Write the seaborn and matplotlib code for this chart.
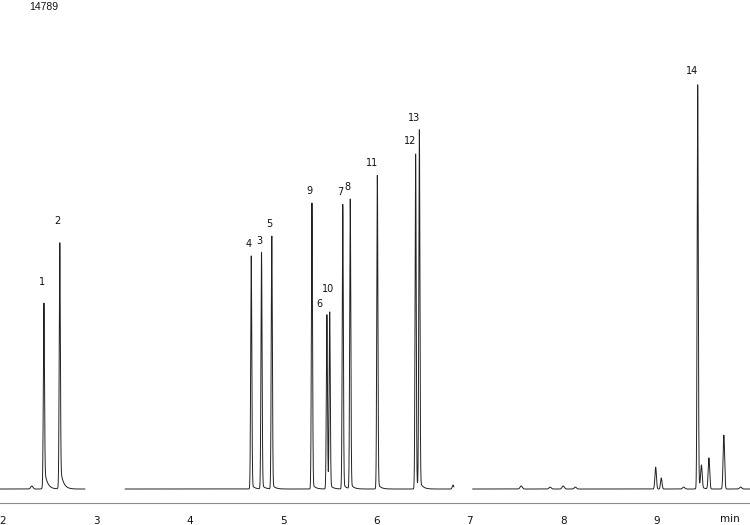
import numpy as np
import pandas as pd
import matplotlib
matplotlib.use("Agg")
import matplotlib.pyplot as plt
import seaborn as sns

# ---- data ----
peak_labels = ['1', '2', '4', '3', '5', '9', '6', '10', '7', '8', '11', '12', '13', '14']
peak_times = [2.44, 2.61, 4.66, 4.77, 4.88, 5.31, 5.47, 5.50, 5.64, 5.72, 6.01, 6.42, 6.46, 9.44]
peak_heights = [6240, 8170, 7440, 7540, 8070, 9110, 5550, 5610, 9080, 9240, 9990, 10690, 11410, 12900]
peak_tailing = [0.12, 0.10, 0.02, 0.02, 0.02, 0.02, 0.02, 0.02, 0.02, 0.02, 0.02, 0.02, 0.02, 0.02]

minor_times = [2.31, 6.82, 7.55, 7.86, 8.00, 8.13, 8.99, 9.05, 9.29, 9.48, 9.56, 9.72, 9.90]
minor_heights = [95, 125, 95, 60, 95, 60, 690, 350, 60, 690, 980, 1700, 60]

segment_starts = [1.97, 3.31, 7.03]
segment_ends = [2.88, 6.83, 10.0]

x_ticks = [2, 3, 4, 5, 6, 7, 8, 9]
scale_label = '14789'
y_max = 14789

# label nudges (points) for the crowded 6 / 10 pair
label_dx = {'6': -3.5, '10': 2.5}
label_dy = {'10': 9}


def peak_shape(t, t0, h, tail, s=0.006, tau=0.03):
    g = np.exp(-0.5 * ((t - t0) / s) ** 2)
    z = np.clip((t - t0) / s, -50, 50)
    e = np.exp(-np.clip(t - t0, 0, None) / tau) / (1 + np.exp(-z))
    return h * ((1 - tail) * g + tail * e)


frames = []
for i, (a, b) in enumerate(zip(segment_starts, segment_ends)):
    t = np.arange(a, b, 0.0008)
    y = np.zeros_like(t)
    for t0, h, tl in zip(peak_times, peak_heights, peak_tailing):
        y += peak_shape(t, t0, h, tl)
    for t0, h in zip(minor_times, minor_heights):
        y += peak_shape(t, t0, h, 0.0, s=0.008 if h > 100 else 0.012)
    frames.append(pd.DataFrame({'time': t, 'signal': y, 'seg': i}))
df = pd.concat(frames, ignore_index=True)

sns.set_style("white")
fig = plt.figure(figsize=(7.5, 5.25), dpi=100)
ax = fig.add_axes([0, 22 / 525, 1, 483 / 525])

sns.lineplot(data=df, x='time', y='signal', units='seg', estimator=None,
             color='#222222', linewidth=0.7, ax=ax, sort=False)

for lab, t0, h in zip(peak_labels, peak_times, peak_heights):
    ax.annotate(lab, xy=(t0, h),
                xytext=(0.5 + label_dx.get(lab, 0), 3 + label_dy.get(lab, 0)),
                textcoords='offset points',
                ha='right', va='bottom', fontsize=7, family='DejaVu Sans', color='#111111')

ax.set_xlim(1.97, 10.0)
ax.set_ylim(-441, y_max)
ax.set_xticks(x_ticks)
ax.set_xticklabels([str(v) for v in x_ticks])
ax.set_yticks([])
ax.set_xlabel('')
ax.set_ylabel('')
for s in ['left', 'top', 'right']:
    ax.spines[s].set_visible(False)
ax.spines['bottom'].set_color('#8a8a8a')
ax.spines['bottom'].set_linewidth(0.8)
ax.tick_params(axis='x', direction='out', length=4, width=0.8, color='#8a8a8a',
               pad=5, labelsize=7.5, labelcolor='#111111')

fig.text(730 / 750, 1 - 519 / 525, 'min', ha='center', va='center', fontsize=7.5, color='#111111')
fig.text(29 / 750, 1 - 2 / 525, scale_label, ha='left', va='top', fontsize=7.5,
         family='Liberation Sans', color='#111111')

fig.savefig('out.png', dpi=100)
